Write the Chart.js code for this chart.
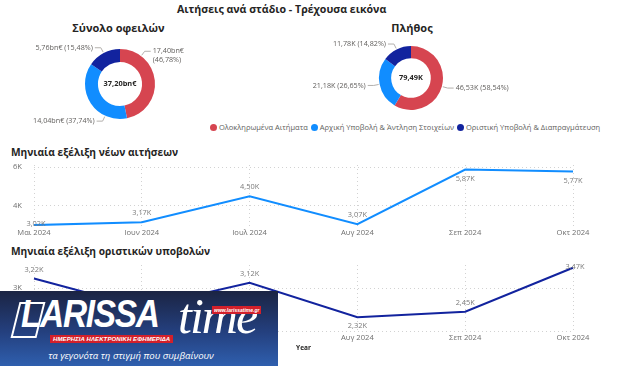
<!DOCTYPE html>
<html>
<head>
<meta charset="utf-8">
<script src="https://cdn.jsdelivr.net/npm/chart.js@4"></script>
<style>
  body { margin: 0; width: 621px; height: 366px; background: #fff; position: relative; overflow: hidden; font-family: "Open Sans", sans-serif; }
  .abs { position: absolute; }
  .title { font-weight: bold; color: #252423; white-space: nowrap; }
  #legend { left: 210px; top: 122px; font-size: 7.5px; color: #605E5C; display: flex; white-space: nowrap; }
  #legend span.item { display: flex; align-items: center; margin-right: 3px; }
  #legend i { display: inline-block; width: 7px; height: 7px; border-radius: 50%; margin-right: 2px; }
  #logo { left: 0; top: 291px; width: 278px; height: 75px; background: linear-gradient(#1b2443, #24407f 55%, #2f5fae); overflow: hidden; color: #fff; }
</style>
</head>
<body>
<div class="abs title" style="left:177px;top:2px;font-size:10.6px">Αιτήσεις ανά στάδιο - Τρέχουσα εικόνα</div>
<div class="abs title" style="left:0;width:237px;top:20px;font-size:11px;text-align:center">Σύνολο οφειλών</div>
<div class="abs title" style="left:312px;width:200px;top:20px;font-size:11px;text-align:center">Πλήθος</div>
<div class="abs" id="legend"></div>
<div class="abs title" style="left:11px;top:145px;font-size:10.2px">Μηνιαία εξέλιξη νέων αιτήσεων</div>
<div class="abs title" style="left:11px;top:244px;font-size:10.2px">Μηνιαία εξέλιξη οριστικών υποβολών</div>

<canvas id="debtChart" class="abs" style="left:28px;top:36px" width="184" height="96"></canvas>
<canvas id="countChart" class="abs" style="left:300px;top:36px" width="222" height="84"></canvas>
<canvas id="newChart" class="abs" style="left:0;top:158px" width="600" height="84"></canvas>
<canvas id="finalChart" class="abs" style="left:0;top:258px" width="600" height="94"></canvas>

<div class="abs" id="logo">
  <div class="abs" style="left:15px;top:11px;width:22px;height:32px;border:2px solid #fff;transform:skewX(-14deg)"></div>
  <div class="abs" style="left:21px;top:2px;font:italic bold 38px 'Liberation Sans',Arial,sans-serif;letter-spacing:-1.5px;transform:scaleX(0.88);transform-origin:left">LARISSA</div>
  <div class="abs" style="left:178px;top:-4px;font:italic 50px 'Liberation Serif','DejaVu Serif',serif;letter-spacing:-2px">time</div>
  <div class="abs" style="left:212px;top:15px;background:#d3202a;font:italic bold 5px 'Liberation Sans',sans-serif;padding:1px 2px">www.larissatime.gr</div>
  <div class="abs" style="left:50px;top:44px;background:#d3202a;font:italic bold 6px 'Liberation Sans',sans-serif;padding:1px 3px;letter-spacing:0.1px">ΗΜΕΡΗΣΙΑ ΗΛΕΚΤΡΟΝΙΚΗ ΕΦΗΜΕΡΙΔΑ</div>
  <div class="abs" style="left:0;width:262px;top:58px;text-align:center;font:italic 9.6px 'Open Sans',sans-serif">τα γεγονότα τη στιγμή που συμβαίνουν</div>
</div>

<script>
// stages (shared by both doughnuts)
const stages = ['Ολοκληρωμένα Αιτήματα', 'Αρχική Υποβολή & Άντληση Στοιχείων', 'Οριστική Υποβολή & Διαπραγμάτευση'];
const stageColors = ['#D64550', '#118DFF', '#12239E'];

// total debts, bn€
const debtValues = [17.402, 14.039, 5.759];
// number of applications
const countValues = [46531, 21182, 11779];

// monthly series
const months = ['Μαι 2024', 'Ιουν 2024', 'Ιουλ 2024', 'Αυγ 2024', 'Σεπ 2024', 'Οκτ 2024'];
const newApps = [3020, 3170, 4500, 3070, 5870, 5770];
const finalSubs = [3220, 2550, 3120, 2320, 2450, 3470];
const newTicks = [4000, 6000];
const finalTicks = [2000, 3000];

const FONT = "'Open Sans', sans-serif";
const gray = '#6f6f6f';

function comma(v) {
    return v.toFixed(2).replace('.', ',');
}
function fmtK(v) {
    return comma(v / 1000) + 'K';
}
function fmtBn(v) {
    return comma(v) + 'bn€';
}

// legend
var legend = document.getElementById('legend');
stages.forEach(function (s, i) {
    legend.innerHTML += '<span class="item"><i style="background:' + stageColors[i] + '"></i>' + s + '</span>';
});

// outside labels with leader lines + total in the hole
const sliceLabels = {
    id: 'sliceLabels',
    afterDraw(chart, args, opts) {
        const ctx = chart.ctx;
        const meta = chart.getDatasetMeta(0);
        const data = chart.data.datasets[0].data;
        const total = data.reduce((a, b) => a + b, 0);
        ctx.save();
        ctx.font = '7.2px ' + FONT;
        ctx.textBaseline = 'middle';
        ctx.strokeStyle = '#b3b0ad';
        ctx.fillStyle = '#605E5C';
        ctx.lineWidth = 1;
        meta.data.forEach(function (arc, i) {
            const p = arc.getProps(['x', 'y', 'startAngle', 'endAngle', 'outerRadius'], true);
            const a = p.startAngle + (p.endAngle - p.startAngle) * opts.anchor[i];
            const x1 = p.x + Math.cos(a) * (p.outerRadius + 1);
            const y1 = p.y + Math.sin(a) * (p.outerRadius + 1);
            const x2 = p.x + Math.cos(a) * (p.outerRadius + 6);
            const y2 = p.y + Math.sin(a) * (p.outerRadius + 6);
            const right = Math.cos(a) >= 0;
            const x3 = x2 + (right ? 6 : -6);
            ctx.beginPath();
            ctx.moveTo(x1, y1);
            ctx.lineTo(x2, y2);
            ctx.lineTo(x3, y2);
            ctx.stroke();
            const first = opts.format(data[i]);
            const pct = '(' + comma(data[i] / total * 100) + '%)';
            const tx = x3 + (right ? 2 : -2);
            ctx.textAlign = right ? 'left' : 'right';
            const full = first + ' ' + pct;
            const w = ctx.measureText(full).width;
            if ((right && tx + w > chart.width - 2) || (!right && tx - w < 2)) {
                ctx.fillText(first, tx, y2);
                ctx.fillText(pct, tx, y2 + 9);
            } else {
                ctx.fillText(full, tx, y2);
            }
        });
        ctx.font = 'bold 7.4px ' + FONT;
        ctx.fillStyle = '#252423';
        ctx.textAlign = 'center';
        ctx.fillText(opts.format(total), meta.data[0].x, meta.data[0].y);
        ctx.restore();
    }
};

function donut(id, values, radius, cutout, anchor, format) {
    return new Chart(document.getElementById(id), {
        type: 'doughnut',
        data: {
            labels: stages,
            datasets: [{ data: values, backgroundColor: stageColors, borderWidth: 0 }]
        },
        options: {
            responsive: false,
            animation: false,
            radius: radius,
            cutout: cutout,
            layout: { padding: 0 },
            plugins: {
                legend: { display: false },
                tooltip: { enabled: false },
                sliceLabels: { anchor: anchor, format: format }
            }
        },
        plugins: [sliceLabels]
    });
}

donut('debtChart', debtValues, 35, '63%', [0.22, 0.27, 0.5], fmtBn);
donut('countChart', countValues, 32, '62%', [0.5, 0.5, 0.5], fmtK);

// value labels on the line points
const pointLabels = {
    id: 'pointLabels',
    afterDatasetsDraw(chart, args, opts) {
        const ctx = chart.ctx;
        const meta = chart.getDatasetMeta(0);
        const data = chart.data.datasets[0].data;
        ctx.save();
        ctx.font = '7.4px ' + FONT;
        ctx.fillStyle = '#7a7a7a';
        ctx.textAlign = 'center';
        ctx.textBaseline = 'middle';
        meta.data.forEach(function (pt, i) {
            const pos = opts.positions[i];
            const dy = pos === 'above' ? -9 : pos === 'below' ? 9 : -1;
            ctx.fillText(fmtK(data[i]), pt.x + (pos === 'center' ? 2 : 0), pt.y + dy);
        });
        ctx.restore();
    }
};

function lineChart(id, values, color, yMin, yMax, yTicks, positions, xHeight, xTitle) {
    return new Chart(document.getElementById(id), {
        type: 'line',
        data: {
            labels: months,
            datasets: [{ data: values, borderColor: color, borderWidth: 2, pointRadius: 0, tension: 0, fill: false }]
        },
        options: {
            responsive: false,
            animation: false,
            layout: { padding: { top: 7, right: 27, left: 0, bottom: 0 }, autoPadding: false },
            plugins: {
                legend: { display: false },
                tooltip: { enabled: false },
                pointLabels: { positions: positions }
            },
            scales: {
                x: {
                    offset: false,
                    grid: { color: '#d2d2d2', drawTicks: false },
                    border: { display: false, dash: [1, 3] },
                    ticks: { padding: 2, color: gray, font: { family: FONT, size: 7.6 }, maxRotation: 0, autoSkip: false },
                    title: { display: !!xTitle, text: xTitle, color: '#252423', padding: 0, font: { family: FONT, size: 6.5, weight: 'bold' } },
                    afterFit(s) { s.height = xHeight; s.paddingLeft = 0; s.paddingRight = 0; }
                },
                y: {
                    min: yMin,
                    max: yMax,
                    afterBuildTicks(s) { s.ticks = yTicks.map(v => ({ value: v })); },
                    grid: { color: '#d2d2d2', drawTicks: false },
                    border: { display: false, dash: [1, 3] },
                    ticks: { padding: 12, color: gray, font: { family: FONT, size: 7.6 }, callback: v => (v / 1000) + 'K' },
                    afterFit(s) { s.width = 34; s.paddingTop = 0; s.paddingBottom = 0; }
                }
            }
        },
        plugins: [pointLabels]
    });
}

lineChart('newChart', newApps, '#118DFF', 2974, 6103, newTicks,
    ['center', 'above', 'above', 'above', 'below', 'below'], 16, '');
lineChart('finalChart', finalSubs, '#12239E', 2000, 3535, finalTicks,
    ['above', 'below', 'above', 'below', 'above', 'center'], 21, 'Year');
</script>
</body>
</html>
